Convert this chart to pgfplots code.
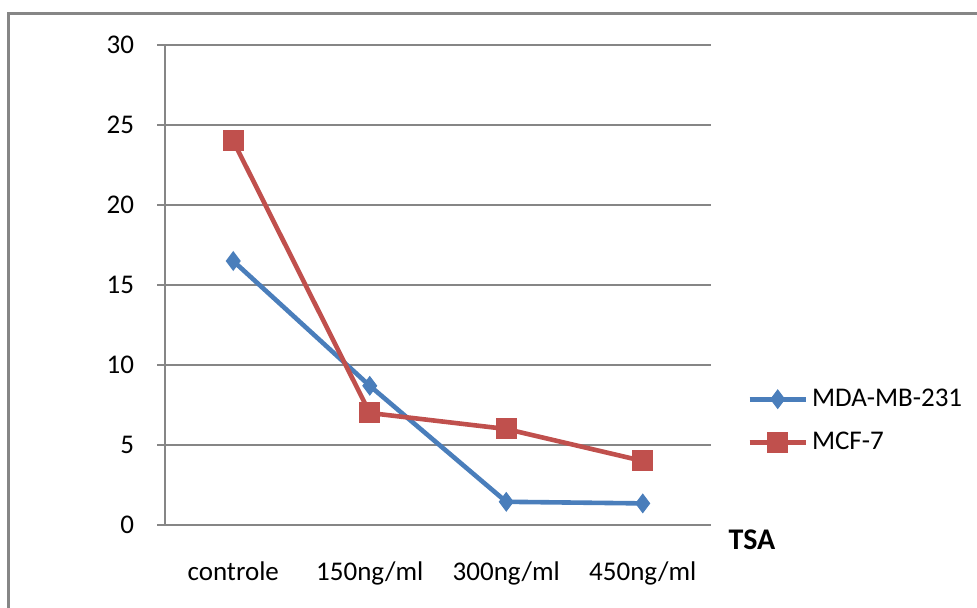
\documentclass[border=0pt]{standalone}
\usepackage{fontspec}
\setmainfont{Carlito}
\usepackage{pgfplots}
\pgfplotsset{compat=1.18}
\definecolor{gridgray}{HTML}{868686}
\definecolor{sblue}{HTML}{4A7EBB}
\definecolor{sred}{HTML}{C0504D}
\begin{document}
\begin{tikzpicture}[x=1pt,y=1pt]
\path[use as bounding box] (0,0) rectangle (488.5,304);
\draw[gridgray,line width=1.5pt] (4,0) -- (4,297) -- (489,297);
\begin{axis}[
  at={(82.5pt,41.5pt)}, anchor=south west,
  scale only axis, width=273pt, height=240pt,
  xmin=-0.5, xmax=3.5, ymin=0, ymax=30,
  axis lines*=left,
  axis line style={draw=gridgray, line width=0.8pt},
  xtick={0,1,2,3},
  xticklabels={controle,150ng/ml,300ng/ml,450ng/ml},
  ytick={0,5,...,30},
  ymajorgrids, grid style={draw=gridgray, line width=1pt},
  major x tick style={draw=none},
  extra x ticks={-0.5,0.5,1.5,2.5,3.5},
  extra x tick labels={},
  extra x tick style={major tick length=4pt, tick style={draw=gridgray,line width=0.8pt}, tick align=outside, xmajorgrids=false},
  ytick style={draw=gridgray,line width=1pt},
  tick align=outside, major tick length=4pt,
  tick label style={font=\fontsize{13.5}{16}\selectfont},
  /pgf/number format/assume math mode=true,
  yticklabel style={xshift=-8pt},
  xticklabel style={yshift=-11pt},
  legend style={draw=none, fill=none, at={(1,0.2167)}, anchor=west, xshift=18pt,
     font=\fontsize{13.5}{16}\selectfont, row sep=7.5pt, inner sep=0pt,
     cells={anchor=west}},
  legend cell align=left,
  legend image code/.code={
    \draw[#1,mark=none] (0pt,0pt) -- (28pt,0pt);
    \draw[#1] plot coordinates {(14pt,0pt)};
  },
]
\addplot[sblue, line width=2.3pt, mark=diamond*, mark size=4.6pt, mark options={solid,fill=sblue,line width=0.5pt}]
  coordinates {(0,16.5) (1,8.7) (2,1.45) (3,1.35)};
\addlegendentry{MDA-MB-231}
\addplot[sred, line width=2.3pt, mark=square*, mark size=5pt, mark options={solid,fill=sred,line width=0pt}]
  coordinates {(0,24) (1,7) (2,6) (3,4)};
\addlegendentry{MCF-7}
\end{axis}
\node[font=\fontsize{15}{17}\selectfont\bfseries] at (376,34) {TSA};
\end{tikzpicture}
\end{document}
